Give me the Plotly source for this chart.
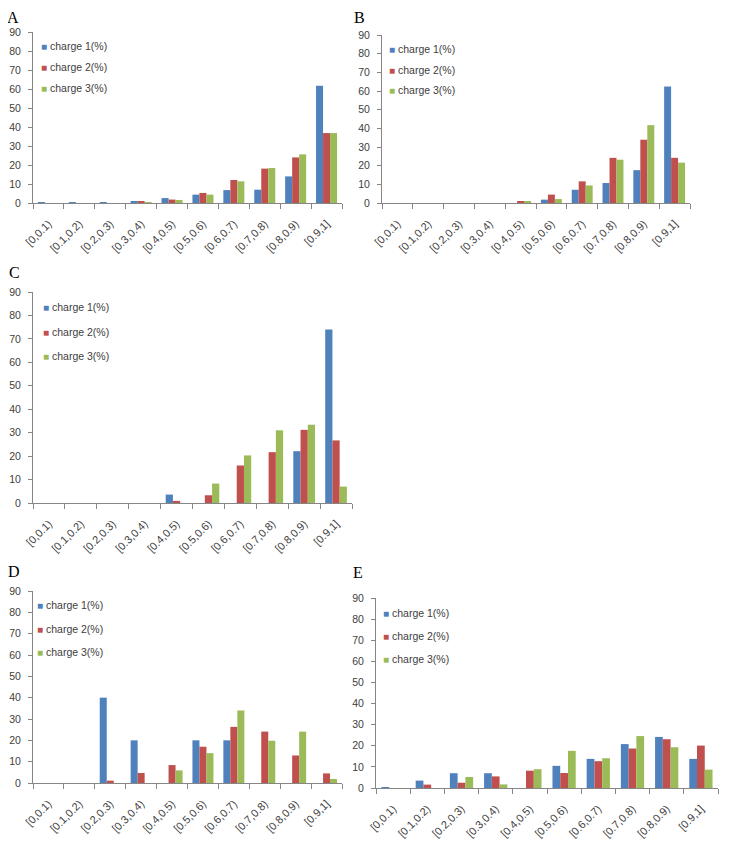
import plotly.graph_objects as go

categories = ["[0,0.1)", "[0.1,0.2)", "[0.2,0.3)", "[0.3,0.4)", "[0.4,0.5)",
              "[0.5,0.6)", "[0.6,0.7)", "[0.7,0.8)", "[0.8,0.9)", "[0.9,1]"]
series_names = ["charge 1(%)", "charge 2(%)", "charge 3(%)"]
y_ticks = [0, 10, 20, 30, 40, 50, 60, 70, 80, 90]

# Panel A
a_charge1 = [0.1, 0.3, 0.1, 1.0, 2.6, 4.4, 6.8, 7.0, 14.0, 61.7]
a_charge2 = [0.0, 0.0, 0.0, 0.7, 1.8, 5.3, 12.1, 18.1, 24.0, 36.8]
a_charge3 = [0.0, 0.0, 0.0, 0.3, 1.6, 4.4, 11.4, 18.4, 25.6, 36.8]
# Panel B
b_charge1 = [0, 0, 0, 0, 0, 1.8, 7.1, 10.7, 17.6, 62.4]
b_charge2 = [0, 0, 0, 0, 0.7, 4.5, 11.6, 24.2, 33.9, 24.2]
b_charge3 = [0, 0, 0, 0, 0.7, 2.1, 9.4, 23.2, 41.7, 21.6]
# Panel C
c_charge1 = [0, 0, 0, 0, 3.6, 0, 0, 0, 22.1, 74.0]
c_charge2 = [0, 0, 0, 0, 0.9, 3.3, 16.0, 21.7, 31.2, 26.7]
c_charge3 = [0, 0, 0, 0, 0, 8.3, 20.3, 31.0, 33.4, 7.0]
# Panel D
d_charge1 = [0, 0, 40.0, 20.0, 0, 20.0, 20.0, 0, 0, 0]
d_charge2 = [0, 0, 1.1, 4.7, 8.4, 17.0, 26.3, 24.1, 12.9, 4.5]
d_charge3 = [0, 0, 0, 0, 5.9, 14.0, 34.0, 19.8, 24.1, 1.9]
# Panel E
e_charge1 = [0.1, 3.5, 7.0, 7.0, 0, 10.5, 13.8, 20.8, 24.2, 13.8]
e_charge2 = [0, 1.6, 2.5, 5.5, 8.2, 7.1, 12.7, 18.7, 23.1, 20.1]
e_charge3 = [0, 0, 5.2, 1.7, 8.9, 17.6, 14.1, 24.6, 19.3, 8.7]

panel_labels = ["A", "B", "C", "D", "E"]
panels = [
    (a_charge1, a_charge2, a_charge3),
    (b_charge1, b_charge2, b_charge3),
    (c_charge1, c_charge2, c_charge3),
    (d_charge1, d_charge2, d_charge3),
    (e_charge1, e_charge2, e_charge3),
]

colors = ["#4F81BD", "#C0504D", "#9BBB59"]

# page is 729x845; the html body adds an 8px margin, so the figure is
# sized to fill the rest and page pixel positions are converted below
OFF = 8
FW, FH = 729 - OFF, 845 - OFF


def fx(px):
    return (px - OFF) / FW


def fy(py):
    return 1 - (py - OFF) / FH


# plot areas in page pixels: (left, right, top, bottom)
boxes = [
    (33, 342, 32, 203),
    (382, 690, 35, 203),
    (33, 352, 292, 503),
    (33, 342, 591, 783),
    (376, 718, 598, 788),
]
# legend: marker left x, centre y of each of the 3 rows
legend_pos = [
    (39, [46, 67, 88]),
    (387, [49, 70, 90]),
    (41, [307, 332, 356]),
    (35, [605, 629, 652]),
    (381, [613, 636, 659]),
]
# panel letter: left x, y, vertical anchor
label_pos = [(6, 8, "top"), (353, 8, "top"), (8, 272, "middle"),
             (7, 571, "middle"), (352, 572, "middle")]

font_fam = "Liberation Sans"
txt_col = "#404040"
axis_col = "#868686"

fig = go.Figure()
layout = dict(template="none", width=FW, height=FH,
              margin=dict(l=0, r=0, t=0, b=0),
              paper_bgcolor="white", plot_bgcolor="white",
              bargap=0.32, bargroupgap=0, barmode="group", showlegend=False,
              font=dict(family=font_fam, size=10, color=txt_col))
annotations = []
for i, (vals, box) in enumerate(zip(panels, boxes)):
    idx = "" if i == 0 else str(i + 1)
    xa, ya = "x" + idx, "y" + idx
    for j in range(3):
        fig.add_trace(go.Bar(
            x=categories, y=vals[j], name=series_names[j],
            marker=dict(color=colors[j], line=dict(width=0)),
            xaxis=xa, yaxis=ya))
    l, r, t, b = box
    layout["xaxis" + idx] = dict(
        domain=[fx(l), fx(r)], anchor=ya, type="category", automargin=False,
        showline=True, linecolor=axis_col, linewidth=1,
        ticks="outside", tickson="boundaries", ticklen=5, tickcolor=axis_col,
        tickangle=-45, ticklabelstandoff=9,
        tickfont=dict(size=11, color=txt_col), showgrid=False,
        range=[-0.5, 9.5], fixedrange=True)
    layout["yaxis" + idx] = dict(
        domain=[fy(b), fy(t)], anchor=xa, range=[0, 90],
        automargin=False, ticklabelstandoff=5,
        tickvals=y_ticks, showline=True, linecolor=axis_col, linewidth=1,
        ticks="outside", ticklen=4, tickcolor=axis_col, showgrid=False,
        zeroline=False, tickfont=dict(size=10.5, color=txt_col),
        fixedrange=True)
    lx, lys = legend_pos[i]
    for j in range(3):
        annotations.append(dict(
            text=f"<span style='color:{colors[j]};font-size:10px'>■</span> "
                 f"{series_names[j]}",
            x=fx(lx), y=fy(lys[j]), xref="paper", yref="paper",
            xanchor="left", yanchor="middle", showarrow=False,
            font=dict(family=font_fam, size=10.5, color=txt_col)))
    px, py, va = label_pos[i]
    annotations.append(dict(text=panel_labels[i], x=fx(px), y=fy(py),
                            xref="paper", yref="paper", xanchor="left",
                            yanchor=va, showarrow=False, borderpad=0,
                            font=dict(family="Liberation Serif", size=16,
                                      color="black")))
layout["annotations"] = annotations
fig.update_layout(**layout)
fig.write_html("out.html")
